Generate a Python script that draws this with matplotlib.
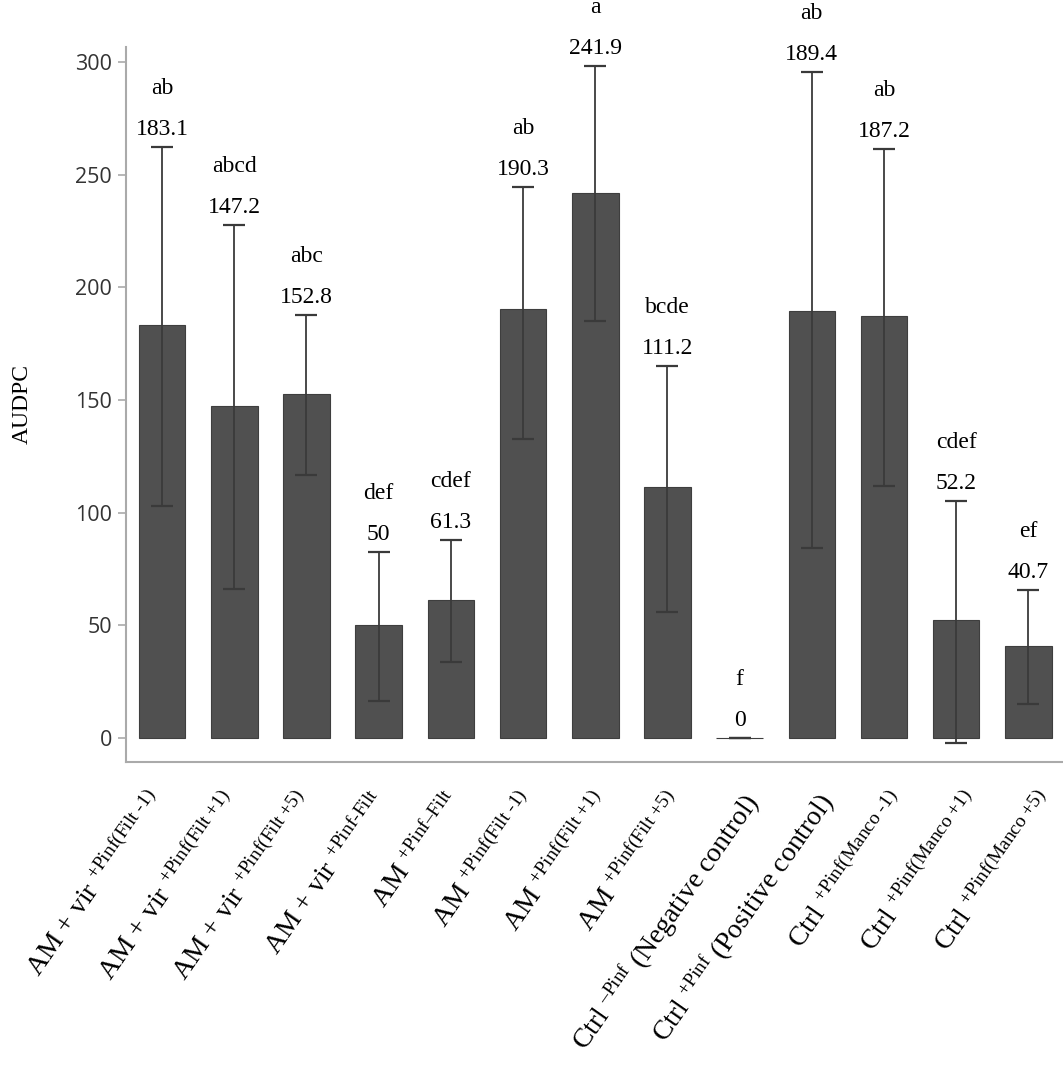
import numpy as np
import matplotlib
matplotlib.use("Agg")
import matplotlib.pyplot as plt
from matplotlib.transforms import ScaledTranslation

plt.rcParams['mathtext.fontset'] = 'custom'
plt.rcParams['mathtext.rm'] = 'Liberation Serif'
plt.rcParams['mathtext.default'] = 'regular'

# treatment labels (superscripts via mathtext)
labels = [
    r"AM + vir $^{\text{+Pinf(Filt -1)}}$",
    r"AM + vir $^{\text{+Pinf(Filt +1)}}$",
    r"AM + vir $^{\text{+Pinf(Filt +5)}}$",
    r"AM + vir $^{\text{+Pinf-Filt}}$",
    r"AM $^{\text{+Pinf–Filt}}$",
    r"AM $^{\text{+Pinf(Filt -1)}}$",
    r"AM $^{\text{+Pinf(Filt +1)}}$",
    r"AM $^{\text{+Pinf(Filt +5)}}$",
    r"Ctrl $^{\text{–Pinf}}$ (Negative control)",
    r"Ctrl $^{\text{+Pinf}}$ (Positive control)",
    r"Ctrl $^{\text{+Pinf(Manco -1)}}$",
    r"Ctrl $^{\text{+Pinf(Manco +1)}}$",
    r"Ctrl $^{\text{+Pinf(Manco +5)}}$",
]

# AUDPC means, error bar ends and letter groups
means = [183.1, 147.2, 152.8, 50, 61.3, 190.3, 241.9, 111.2, 0, 189.4, 187.2, 52.2, 40.7]
err_hi = [262.3, 227.7, 187.7, 82.6, 87.9, 244.7, 298.3, 165.2, 0, 295.6, 261.4, 105.2, 65.7]
err_lo = [103.0, 66.0, 116.7, 16.6, 33.7, 132.7, 185.1, 56.0, 0, 84.3, 111.9, -2.2, 15.1]
groups = ["ab", "abcd", "abc", "def", "cdef", "ab", "a", "bcde", "f", "ab", "ab", "cdef", "ef"]
value_text = ["183.1", "147.2", "152.8", "50", "61.3", "190.3", "241.9", "111.2", "0",
              "189.4", "187.2", "52.2", "40.7"]

means = np.array(means)
hi = np.array(err_hi)
lo = np.array(err_lo)
x = np.arange(len(means))

fig = plt.figure(figsize=(10.63, 10.65), dpi=100)
ax = fig.add_axes([126/1063, 1 - 762/1065, 1 - 126/1063, (762 - 47)/1065])

ax.bar(x, means, width=0.645, color="#505050", edgecolor="#3e3e3e", linewidth=0.8, zorder=2)
ax.errorbar(x, means, yerr=[means - lo, hi - means], fmt="none", ecolor="#3a3a3a",
            elinewidth=1.3, capsize=8, capthick=1.6, zorder=3)

for xi, top, v, g in zip(x, hi, value_text, groups):
    ax.annotate(v, (xi, top), xytext=(0, 8.6), textcoords="offset points",
                ha="center", va="baseline", fontsize=17, family="Liberation Serif",
                annotation_clip=False)
    ax.annotate(g, (xi, top), xytext=(0, 38), textcoords="offset points",
                ha="center", va="baseline", fontsize=17, family="Liberation Serif",
                annotation_clip=False)

ax.set_xlim(-0.5, 12.48)
ax.set_ylim(-10.65, 306.7)
ax.set_yticks(np.arange(0, 301, 50))
ax.tick_params(axis="y", length=6, width=1.2, color="#aaaaaa", labelsize=15.5,
               labelcolor="#333333", pad=4)
for t in ax.get_yticklabels():
    t.set_family("Open Sans")

ax.set_xticks(x)
ax.set_xticklabels(labels, rotation=55, ha="right", va="top", rotation_mode="anchor",
                   fontsize=20, family="Liberation Serif")
ax.tick_params(axis="x", length=0, pad=18.5)
# labels drift slightly to the right across the axis, as in the original
for i, t in enumerate(ax.get_xticklabels()):
    dx = (-15 + 2.0 * i) / 100
    t.set_transform(t.get_transform() + ScaledTranslation(dx, 0, fig.dpi_scale_trans))

for s in ["top", "right"]:
    ax.spines[s].set_visible(False)
for s in ["left", "bottom"]:
    ax.spines[s].set_color("#aaaaaa")
    ax.spines[s].set_linewidth(1.5)

ax.set_ylabel("AUDPC", fontsize=17, family="Liberation Serif")
ax.yaxis.set_label_coords(-0.100, 0.5)

fig.savefig("out.png", dpi=100)
